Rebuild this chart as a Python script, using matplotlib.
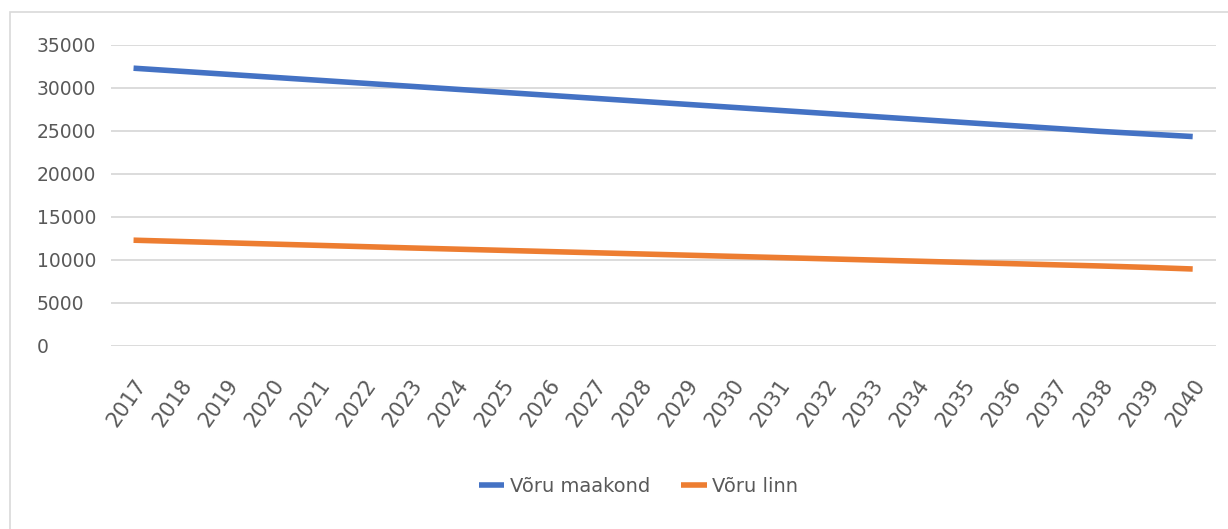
import matplotlib.pyplot as plt
from matplotlib.patches import Rectangle

# Andmed
aastad = list(range(2017, 2041))
maakond = [32300, 31950, 31600, 31250, 30900, 30550, 30200, 29850, 29500, 29150,
           28800, 28450, 28100, 27750, 27400, 27050, 26700, 26350, 26000, 25650,
           25300, 24950, 24650, 24350]
linn = [12300, 12150, 12000, 11850, 11700, 11550, 11400, 11260, 11120, 10980,
        10840, 10700, 10560, 10420, 10280, 10140, 10000, 9860, 9720, 9580,
        9440, 9300, 9140, 8950]
y_ticks = [0, 5000, 10000, 15000, 20000, 25000, 30000, 35000]

fig = plt.figure(figsize=(12.28, 5.29), dpi=100)
ax = fig.add_axes([0.09, 0.346, 0.90, 0.569])

# raam ümber diagrammi
fig.patches.append(Rectangle((0.008, -0.1), 1.1, 1.077, transform=fig.transFigure,
                             fill=False, edgecolor="#d9d9d9", linewidth=1.2))

ax.plot(aastad, maakond, color="#4472c4", linewidth=4, label="Võru maakond",
        solid_capstyle="butt")
ax.plot(aastad, linn, color="#ed7d31", linewidth=4, label="Võru linn",
        solid_capstyle="butt")

ax.set_xlim(2016.5, 2040.5)
ax.set_ylim(0, 35000)
ax.set_yticks(y_ticks)
ax.set_yticklabels([str(v) for v in y_ticks], ha="left")
ax.set_xticks(aastad)
ax.set_xticklabels([str(a) for a in aastad], rotation=55, ha="right",
                   rotation_mode="anchor", fontsize=15)
ax.tick_params(axis="both", length=0, colors="#595959")
ax.tick_params(axis="y", labelsize=13.5, pad=53)
ax.tick_params(axis="x", pad=21)
ax.grid(axis="y", color="#d9d9d9", linewidth=1.3)
ax.set_axisbelow(True)
for s in ax.spines.values():
    s.set_visible(False)

fig.legend(loc="center", bbox_to_anchor=(0.52, 0.08), ncol=2, frameon=False,
           fontsize=14, labelcolor="#595959", handlelength=1.3,
           columnspacing=1.6, handletextpad=0.3)

fig.savefig("out.png", dpi=100)
